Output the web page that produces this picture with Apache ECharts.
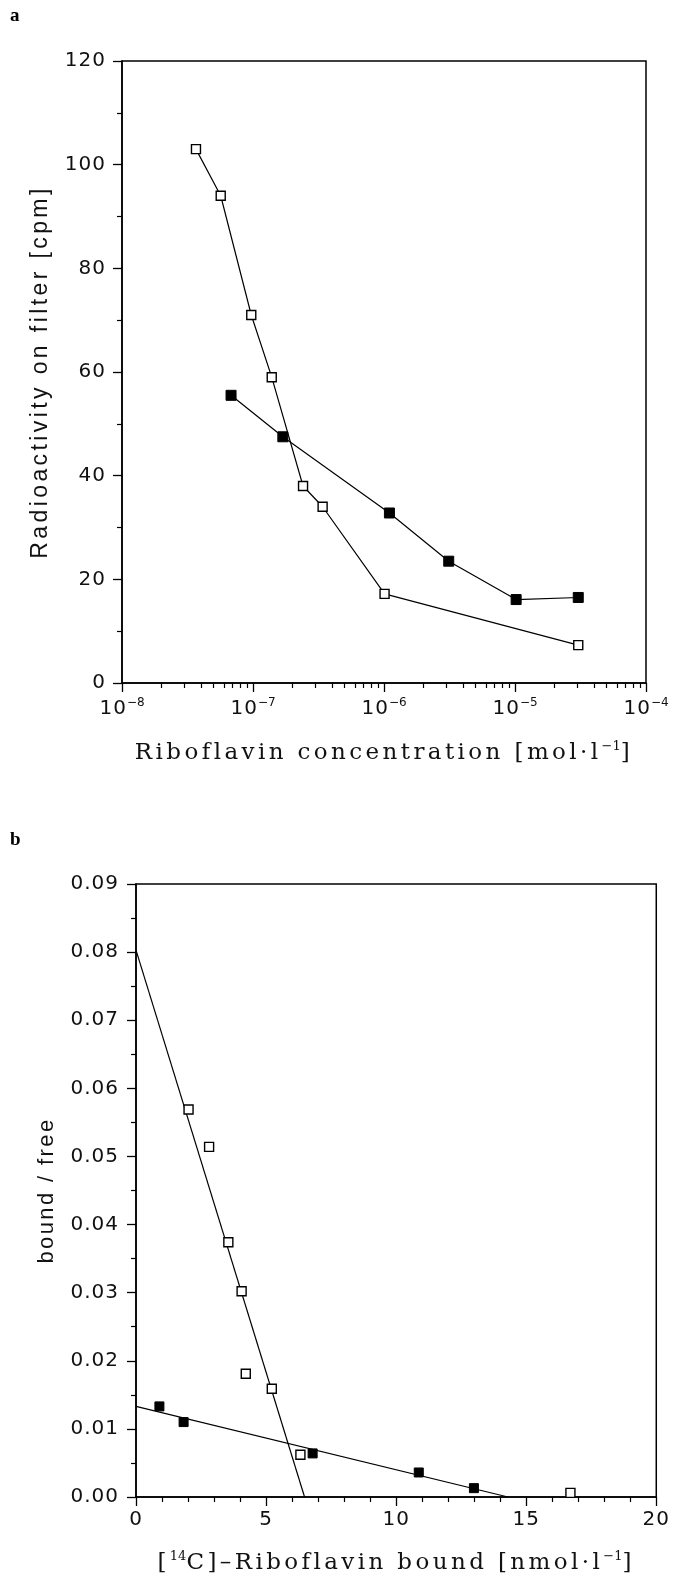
<!DOCTYPE html>
<html><head><meta charset="utf-8">
<script src="https://cdn.jsdelivr.net/npm/echarts@6/dist/echarts.min.js"></script>
<style>html,body{margin:0;padding:0;background:#fff}#c{width:673px;height:1582px}</style>
</head><body><div id="c"></div>
<script>
// ---- Panel a: radioactivity vs riboflavin concentration (log x) ----
const concOpen = [3.67e-8, 5.67e-8, 9.7e-8, 1.39e-7, 2.41e-7, 3.4e-7, 1.01e-6, 3.04e-5];
const cpmOpen  = [103, 94, 71, 59, 38, 34, 17.2, 7.3];
const concFilled = [6.8e-8, 1.69e-7, 1.10e-6, 3.12e-6, 1.02e-5, 3.04e-5];
const cpmFilled  = [55.5, 47.5, 32.8, 23.5, 16.1, 16.5];
const logDecades = [-8, -7, -6, -5, -4];          // major tick exponents
const minorMantissas = [2, 3, 4, 5, 6, 7, 8, 9];  // minor ticks per decade

// ---- Panel b: Scatchard plot ----
const boundOpen = [2.02, 2.81, 3.55, 4.06, 4.22, 5.22, 6.32, 16.70];
const ratioOpen = [0.0569, 0.0514, 0.0374, 0.0302, 0.0181, 0.0159, 0.0062, 0.0006];
const boundFilled = [0.90, 1.83, 6.79, 10.87, 12.99];
const ratioFilled = [0.0133, 0.0110, 0.0064, 0.0036, 0.0013];
const fitOpenX = [0, 6.48];
const fitOpenY = [0.0803, 0];
const fitFilledX = [0, 14.3];
const fitFilledY = [0.0133, 0];

// Letter spacing (the original plotting fonts are widely spaced): chosen by font only
(function () {
  const P = window.CanvasRenderingContext2D && CanvasRenderingContext2D.prototype;
  if (!P || !('letterSpacing' in P)) return;
  const spacingFor = (font) => {
    const f = String(font || '');
    if (f.indexOf('DejaVu Serif') >= 0 && f.indexOf('23px') >= 0) return 3.4;
    if (f.indexOf('Liberation Sans') >= 0 && f.indexOf('23px') >= 0) return 3.4;
    if (f.indexOf('Liberation Sans') >= 0 && f.indexOf('22px') >= 0) return 2.4;
    if (f.indexOf('DejaVu Sans') >= 0 && f.indexOf('20px') >= 0) return 1;
    return 0;
  };
  ['fillText', 'strokeText', 'measureText'].forEach(name => {
    const orig = P[name];
    P[name] = function () {
      this.letterSpacing = spacingFor(this.font) + 'px';
      const r = orig.apply(this, arguments);
      this.letterSpacing = '0px';
      return r;
    };
  });
})();

const zip = (a, b) => a.map((v, i) => [v, b[i]]);
const minorLogs = [];
logDecades.slice(0, -1).forEach(d => minorMantissas.forEach(m => minorLogs.push(d + Math.log10(m))));

const SANS = "'DejaVu Sans', sans-serif";
const SERIF = "'DejaVu Serif', serif";
const TXT = '#111';
const tickLab = { color: TXT, fontFamily: SANS, fontSize: 20 };
const axisLine = { show: true, lineStyle: { color: '#000', width: 1.5 } };
const supRich = {
  sup: { fontSize: 13, fontFamily: SERIF, color: TXT, verticalAlign: 'top', lineHeight: 14 }
};
const majorTick = { show: true, inside: false, length: 9, lineStyle: { color: '#000', width: 1.3 } };

const chart = echarts.init(document.getElementById('c'), null, { renderer: 'canvas' });
chart.setOption({
  animation: false,
  backgroundColor: '#fff',
  graphic: [
    { type: 'text', left: 10, top: 7, style: { text: 'a', font: "bold 19px 'Liberation Serif', serif", fill: '#000' } },
    { type: 'text', left: 10, top: 831, style: { text: 'b', font: "bold 19px 'Liberation Serif', serif", fill: '#000' } }
  ],
  grid: [
    { left: 122, top: 61, width: 524, height: 622, show: true, borderColor: '#000', borderWidth: 1.5, backgroundColor: 'transparent' },
    { left: 136, top: 884, width: 522, height: 613, show: true, borderColor: '#000', borderWidth: 1.5, backgroundColor: 'transparent' }
  ],
  xAxis: [
    { type: 'log', logBase: 10, gridIndex: 0, min: 1e-8, max: 1e-4, show: false },
    {
      type: 'value', gridIndex: 0, min: -8, max: -4, interval: 1, position: 'bottom',
      axisLine: axisLine,
      axisTick: majorTick,
      splitLine: { show: false },
      axisLabel: {
        margin: 14,
        formatter: v => '{b|10}{s|−' + Math.abs(v) + '}',
        rich: {
          b: { fontSize: 20, fontFamily: SANS, color: TXT, lineHeight: 24 },
          s: { fontSize: 12, fontFamily: SANS, color: TXT, verticalAlign: 'top', lineHeight: 14 }
        }
      },
      name: 'Riboflavin concentration [mol·l{sup|−1}]',
      nameLocation: 'middle', nameGap: 57,
      nameTextStyle: { fontFamily: SERIF, fontSize: 23, color: TXT, rich: supRich }
    },
    {
      type: 'value', gridIndex: 0, min: -8, max: -4, position: 'bottom',
      axisLine: { show: false },
      axisTick: { show: true, inside: false, length: 5, customValues: minorLogs, lineStyle: { color: '#000', width: 1.2 } },
      axisLabel: { show: false }, splitLine: { show: false }
    },
    {
      type: 'value', gridIndex: 1, min: 0, max: 20, interval: 5,
      axisLine: axisLine,
      axisTick: majorTick,
      minorTick: { show: true, splitNumber: 5, length: 5, lineStyle: { color: '#000', width: 1.2 } },
      splitLine: { show: false }, minorSplitLine: { show: false },
      axisLabel: Object.assign({ margin: 12 }, tickLab),
      name: '[{sup|14}C]–Riboflavin bound [nmol·l{sup|−1}]',
      nameLocation: 'middle', nameGap: 53,
      nameTextStyle: { fontFamily: SERIF, fontSize: 23, color: TXT, rich: supRich }
    }
  ],
  yAxis: [
    {
      type: 'value', gridIndex: 0, min: 0, max: 120, interval: 20,
      axisLine: axisLine,
      axisTick: majorTick,
      minorTick: { show: true, splitNumber: 2, length: 5, lineStyle: { color: '#000', width: 1.2 } },
      splitLine: { show: false }, minorSplitLine: { show: false },
      axisLabel: Object.assign({ margin: 16 }, tickLab),
      name: 'Radioactivity on filter [cpm]',
      nameLocation: 'middle', nameRotate: 90, nameGap: 62,
      nameTextStyle: { fontFamily: "'Liberation Sans', sans-serif", fontSize: 23, color: TXT }
    },
    {
      type: 'value', gridIndex: 1, min: 0, max: 0.09, interval: 0.01,
      axisLine: axisLine,
      axisTick: majorTick,
      minorTick: { show: true, splitNumber: 2, length: 5, lineStyle: { color: '#000', width: 1.2 } },
      splitLine: { show: false }, minorSplitLine: { show: false },
      axisLabel: Object.assign({ margin: 17, formatter: v => v.toFixed(2) }, tickLab),
      name: 'bound / free',
      nameLocation: 'middle', nameRotate: 90, nameGap: 76,
      nameTextStyle: { fontFamily: "'Liberation Sans', sans-serif", fontSize: 22, color: TXT }
    }
  ],
  series: [
    {
      type: 'line', xAxisIndex: 0, yAxisIndex: 0, data: zip(concOpen, cpmOpen),
      symbol: 'rect', symbolSize: 9, z: 3,
      itemStyle: { color: '#fff', borderColor: '#000', borderWidth: 1.4 },
      lineStyle: { color: '#000', width: 1.2 }
    },
    {
      type: 'line', xAxisIndex: 0, yAxisIndex: 0, data: zip(concFilled, cpmFilled),
      symbol: 'rect', symbolSize: 10, z: 3,
      itemStyle: { color: '#000', borderColor: '#000', borderWidth: 1 },
      lineStyle: { color: '#000', width: 1.2 }
    },
    {
      type: 'line', xAxisIndex: 3, yAxisIndex: 1, data: zip(fitOpenX, fitOpenY),
      symbol: 'none', lineStyle: { color: '#000', width: 1.2 }, z: 2
    },
    {
      type: 'line', xAxisIndex: 3, yAxisIndex: 1, data: zip(fitFilledX, fitFilledY),
      symbol: 'none', lineStyle: { color: '#000', width: 1.2 }, z: 2
    },
    {
      type: 'scatter', xAxisIndex: 3, yAxisIndex: 1, data: zip(boundOpen, ratioOpen),
      symbol: 'rect', symbolSize: 9, z: 4,
      itemStyle: { color: '#fff', borderColor: '#000', borderWidth: 1.4, opacity: 1 }
    },
    {
      type: 'scatter', xAxisIndex: 3, yAxisIndex: 1, data: zip(boundFilled, ratioFilled),
      symbol: 'rect', symbolSize: 9, z: 4,
      itemStyle: { color: '#000', borderColor: '#000', borderWidth: 1, opacity: 1 }
    }
  ]
});
</script></body></html>
